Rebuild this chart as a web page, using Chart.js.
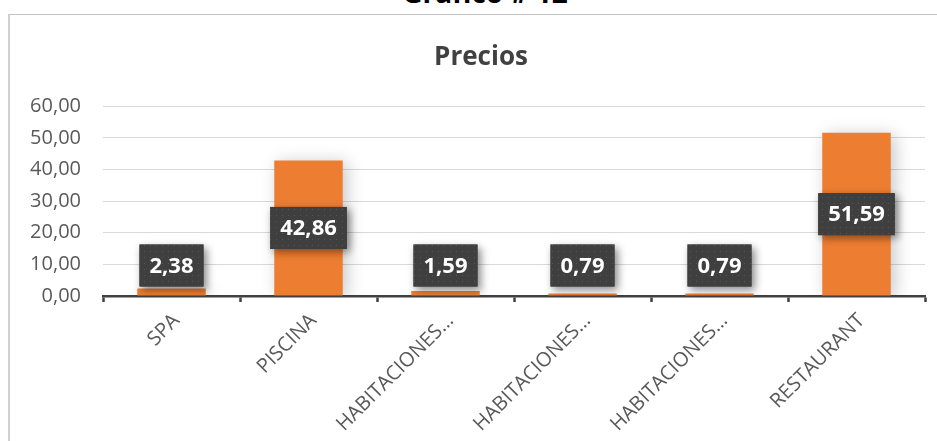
<!DOCTYPE html>
<html>
<head>
<meta charset="utf-8">
<script src="https://cdn.jsdelivr.net/npm/chart.js@4.4.1/dist/chart.umd.min.js"></script>
<style>
  html, body { margin: 0; padding: 0; width: 937px; height: 441px; overflow: hidden; background: #ffffff; }
  #caption { position: absolute; left: 0; width: 970px; top: -22px; text-align: center; font: bold 28px "Open Sans", sans-serif; line-height: 28px; color: #000; white-space: nowrap; }
  #frame { position: absolute; left: 8px; top: 14px; width: 960px; height: 460px; border-left: 2px solid #d0d0d0; border-top: 1px solid #c4c4c4; }
  #wrap { position: absolute; left: 10px; top: 15px; width: 942px; height: 430px; }
</style>
</head>
<body>
<div id="caption">Gráfico # 12</div>
<div id="frame"></div>
<div id="wrap"><canvas id="c" width="942" height="430"></canvas></div>
<script>
const chartTitle = "Precios";
const categories = ["SPA", "PISCINA", "HABITACIONES…", "HABITACIONES…", "HABITACIONES…", "RESTAURANT"];
const values = [2.38, 42.86, 1.59, 0.79, 0.79, 51.59];
const yTicks = [0, 10, 20, 30, 40, 50, 60];

const fmt = v => v.toFixed(2).replace('.', ',');

function makeDotPattern(ctx) {
  const p = document.createElement('canvas');
  p.width = 6; p.height = 6;
  const pc = p.getContext('2d');
  pc.fillStyle = '#3f3f3f';
  pc.fillRect(0, 0, 6, 6);
  pc.fillStyle = '#575757';
  pc.fillRect(2, 2, 1, 1);
  return ctx.createPattern(p, 'repeat');
}

const barShadow = {
  id: 'barShadow',
  beforeDatasetsDraw(chart) {
    const ctx = chart.ctx;
    ctx.save();
    ctx.shadowColor = 'rgba(0,0,0,0.22)';
    ctx.shadowBlur = 16;
    ctx.shadowOffsetX = 4;
    ctx.shadowOffsetY = 2;
  },
  afterDatasetsDraw(chart) {
    chart.ctx.restore();
  }
};

const boxLabels = {
  id: 'boxLabels',
  afterDatasetsDraw(chart) {
    const ctx = chart.ctx;
    const meta = chart.getDatasetMeta(0);
    const pattern = makeDotPattern(ctx);
    ctx.save();
    ctx.font = 'bold 22px "Open Sans", sans-serif';
    meta.data.forEach((bar, i) => {
      const txt = fmt(chart.data.datasets[0].data[i]);
      const tw = ctx.measureText(txt).width;
      const w = tw + 20, h = 42;
      let cy = (bar.y + bar.base) / 2;
      cy = Math.min(cy, bar.base - 9 - h / 2);
      const x = bar.x - w / 2, y = cy - h / 2;
      ctx.save();
      ctx.shadowColor = 'rgba(0,0,0,0.45)';
      ctx.shadowBlur = 8;
      ctx.shadowOffsetX = 3;
      ctx.shadowOffsetY = 3;
      ctx.fillStyle = '#404040';
      ctx.fillRect(x, y, w, h);
      ctx.restore();
      ctx.fillStyle = pattern;
      ctx.fillRect(x, y, w, h);
      ctx.fillStyle = '#ffffff';
      ctx.textAlign = 'center';
      ctx.textBaseline = 'middle';
      ctx.fillText(txt, bar.x, cy + 1);
    });
    ctx.restore();
  }
};

new Chart(document.getElementById('c'), {
  type: 'bar',
  data: {
    labels: categories,
    datasets: [{
      data: values,
      backgroundColor: '#ED7D31',
      borderWidth: 0,
      barPercentage: 0.5,
      categoryPercentage: 1.0
    }]
  },
  options: {
    responsive: false,
    animation: false,
    events: [],
    layout: { padding: 0 },
    plugins: {
      legend: { display: false },
      tooltip: { enabled: false },
      title: {
        display: true,
        text: chartTitle,
        color: '#404040',
        font: { family: '"Open Sans", sans-serif', size: 26, weight: 'bold', lineHeight: 1.2 },
        padding: { top: 27, bottom: 33 }
      }
    },
    scales: {
      x: {
        afterFit(scale) { scale.height = 149; },
        grid: {
          display: true,
          drawOnChartArea: false,
          drawTicks: true,
          tickLength: 6,
          tickWidth: 2.5,
          tickColor: '#404040',
          offset: true
        },
        border: { display: true, color: '#404040', width: 2.5 },
        ticks: {
          color: '#595959',
          font: { family: '"Open Sans", sans-serif', size: 20 },
          minRotation: 45,
          maxRotation: 45,
          autoSkip: false,
          padding: 7,
          labelOffset: 5
        }
      },
      y: {
        min: yTicks[0],
        max: yTicks[yTicks.length - 1],
        afterFit(scale) { scale.width = 93; },
        afterBuildTicks(scale) { scale.ticks = yTicks.map(v => ({ value: v })); },
        grid: { color: '#d9d9d9', lineWidth: 1, drawTicks: false },
        border: { display: false },
        ticks: {
          color: '#595959',
          font: { family: '"Open Sans", sans-serif', size: 20 },
          padding: 22,
          callback: v => fmt(v)
        }
      },
      yRight: {
        position: 'right',
        display: true,
        min: yTicks[0],
        max: yTicks[yTicks.length - 1],
        afterFit(scale) { scale.width = 27; },
        grid: { display: false },
        border: { display: false },
        ticks: { display: false }
      }
    }
  },
  plugins: [barShadow, boxLabels]
});
</script>
</body>
</html>
